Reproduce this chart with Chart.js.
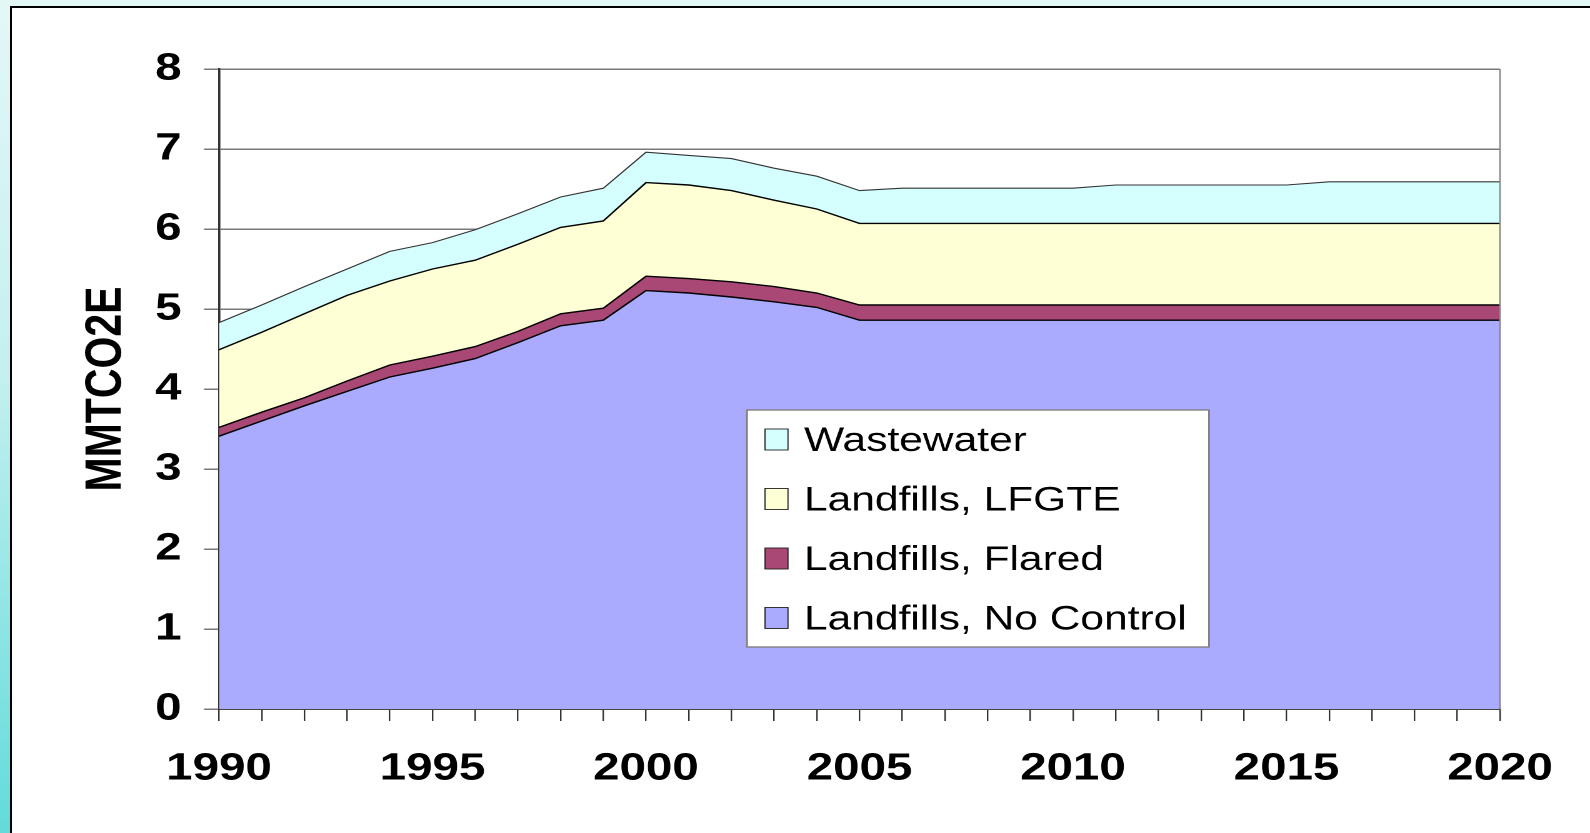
<!DOCTYPE html>
<html>
<head>
<meta charset="utf-8">
<script src="https://cdn.jsdelivr.net/npm/chart.js@4.4.1/dist/chart.umd.min.js"></script>
<style>
  html, body { margin: 0; padding: 0; }
  body {
    width: 1590px; height: 833px; overflow: hidden; position: relative;
    background: linear-gradient(to bottom, #e4f7f7 0%, #c4f0f0 45%, #62dbdb 100%);
  }
  #panel {
    position: absolute; left: 10px; top: 6px; right: 0; bottom: 0;
    background: #fff; border-left: 2px solid #000; border-top: 2px solid #000;
  }
  /* the source chart is stretched sideways, so the canvas is too */
  #wrap {
    position: absolute; left: 0; top: 0; width: 1272px; height: 833px;
    transform: scaleX(1.25); transform-origin: 0 0;
  }
</style>
</head>
<body>
<div id="panel"></div>
<div id="wrap"><canvas id="chart"></canvas></div>
<script>
const YEARS = [1990, 1991, 1992, 1993, 1994, 1995, 1996, 1997, 1998, 1999,
               2000, 2001, 2002, 2003, 2004, 2005, 2006, 2007, 2008, 2009,
               2010, 2011, 2012, 2013, 2014, 2015, 2016, 2017, 2018, 2019, 2020];

const NO_CONTROL = [3.41, 3.60, 3.79, 3.97, 4.15, 4.26, 4.38, 4.58, 4.79, 4.86,
                    5.23, 5.20, 5.15, 5.09, 5.02, 4.86, 4.86, 4.86, 4.86, 4.86,
                    4.86, 4.86, 4.86, 4.86, 4.86, 4.86, 4.86, 4.86, 4.86, 4.86, 4.86];
const FLARED     = [0.11, 0.11, 0.10, 0.13, 0.15, 0.15, 0.15, 0.14, 0.15, 0.15,
                    0.18, 0.18, 0.19, 0.19, 0.18, 0.19, 0.19, 0.19, 0.19, 0.19,
                    0.19, 0.19, 0.19, 0.19, 0.19, 0.19, 0.19, 0.19, 0.19, 0.19, 0.19];
const LFGTE      = [0.97, 1.00, 1.05, 1.07, 1.05, 1.09, 1.08, 1.09, 1.08, 1.09,
                    1.17, 1.17, 1.14, 1.08, 1.05, 1.02, 1.02, 1.02, 1.02, 1.02,
                    1.02, 1.02, 1.02, 1.02, 1.02, 1.02, 1.02, 1.02, 1.02, 1.02, 1.02];
const WASTEWATER = [0.34, 0.34, 0.34, 0.33, 0.37, 0.33, 0.38, 0.38, 0.38, 0.41,
                    0.38, 0.37, 0.40, 0.40, 0.41, 0.41, 0.44, 0.44, 0.44, 0.44,
                    0.44, 0.48, 0.48, 0.48, 0.48, 0.48, 0.52, 0.52, 0.52, 0.52, 0.52];

const SERIES_LABELS = ['Landfills, No Control', 'Landfills, Flared', 'Landfills, LFGTE', 'Wastewater'];
const Y_TITLE = 'MMTCO2E';

const FONT = 'Liberation Sans, Arial, Helvetica, sans-serif';
const COLORS = ['#aaaaff', '#a94775', '#ffffd6', '#d5ffff'];

function area(label, data, color, idx) {
  return {
    label,
    data,
    backgroundColor: color,
    borderColor: idx === 3 ? '#333' : '#000',
    borderWidth: idx === 3 ? 1.1 : 1.4,
    fill: idx === 0 ? 'origin' : '-1',
    pointRadius: 0,
    tension: 0,
  };
}

// Box legend drawn inside the plot, listed top series first
const boxLegend = {
  id: 'boxLegend',
  afterDraw(chart, args, opts) {
    const { ctx } = chart;
    ctx.save();
    ctx.fillStyle = '#fff';
    ctx.fillRect(opts.x, opts.y, opts.w, opts.h);
    ctx.strokeStyle = '#808080';
    ctx.lineWidth = 1.4;
    ctx.strokeRect(opts.x, opts.y, opts.w, opts.h);
    ctx.font = `${opts.size}px ${FONT}`;
    ctx.textBaseline = 'alphabetic';
    const sets = chart.data.datasets.slice().reverse();
    sets.forEach((ds, i) => {
      const cy = opts.firstRow + i * opts.rowGap;
      ctx.fillStyle = ds.backgroundColor;
      ctx.fillRect(opts.markX, cy - 10, 18.4, 21);
      ctx.strokeStyle = '#222';
      ctx.lineWidth = 0.9;
      ctx.strokeRect(opts.markX, cy - 10, 18.4, 21);
      ctx.fillStyle = '#000';
      ctx.fillText(ds.label, opts.textX, cy + opts.size * 0.358);
    });
    ctx.restore();
  },
};

// Right-hand frame of the plot area
const plotFrame = {
  id: 'plotFrame',
  afterDatasetsDraw(chart) {
    const { ctx, chartArea: a } = chart;
    ctx.save();
    ctx.strokeStyle = '#888';
    ctx.lineWidth = 1.2;
    ctx.beginPath();
    ctx.moveTo(a.right, a.top);
    ctx.lineTo(a.right, a.bottom);
    ctx.stroke();
    ctx.restore();
  },
};

new Chart(document.getElementById('chart'), {
  type: 'line',
  data: {
    labels: YEARS,
    datasets: [
      area(SERIES_LABELS[0], NO_CONTROL, COLORS[0], 0),
      area(SERIES_LABELS[1], FLARED, COLORS[1], 1),
      area(SERIES_LABELS[2], LFGTE, COLORS[2], 2),
      area(SERIES_LABELS[3], WASTEWATER, COLORS[3], 3),
    ],
  },
  options: {
    responsive: true,
    maintainAspectRatio: false,
    animation: false,
    devicePixelRatio: 2,
    layout: { padding: { left: 50, top: 69, right: 72, bottom: 0 } },
    plugins: {
      legend: { display: false },
      tooltip: { enabled: false },
      boxLegend: {
        x: 597.6, y: 410, w: 369.6, h: 237,
        markX: 612, textX: 643.2, firstRow: 439, rowGap: 59.5, size: 34,
      },
    },
    scales: {
      x: {
        ticks: {
          autoSkip: false,
          maxRotation: 0,
          padding: 25,
          color: '#000',
          font: { family: FONT, size: 38, weight: 'bold' },
          callback(v) {
            const yr = this.getLabelForValue(v);
            return yr % 5 === 0 ? yr : '';
          },
        },
        grid: { drawOnChartArea: false, drawTicks: true, tickLength: 12, color: '#333', lineWidth: 1.2 },
        border: { display: true, color: '#333', width: 1.8 },
        afterFit(scale) { scale.height = 124; },
      },
      y: {
        stacked: true,
        min: 0,
        max: 8,
        ticks: {
          stepSize: 1,
          padding: 18,
          color: '#000',
          font: { family: FONT, size: 38, weight: 'bold' },
        },
        grid: { color: '#7a7a7a', lineWidth: 1.5, tickLength: 12 },
        border: { display: true, color: '#333', width: 1.8 },
        title: {
          display: true,
          text: Y_TITLE,
          color: '#000',
          padding: { top: 10.5, bottom: 0 },
          font: { family: FONT, size: 41, weight: 'bold' },
        },
        afterFit(scale) { scale.width = 125.2; },
      },
    },
  },
  plugins: [boxLegend, plotFrame],
});
</script>
</body>
</html>
